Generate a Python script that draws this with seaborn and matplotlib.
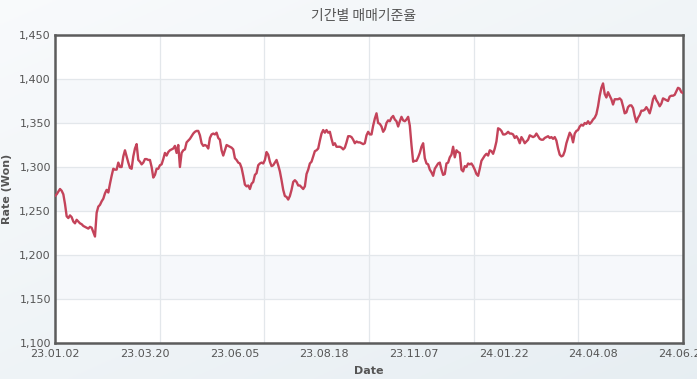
import numpy as np
import pandas as pd
import matplotlib
matplotlib.use("Agg")
import matplotlib.pyplot as plt
import seaborn as sns

# Daily exchange rate (Won), one value per trading day
rates = [
    # 2023-01 .. 2023-03
    1267, 1269, 1272, 1275, 1273, 1269, 1258, 1244, 1242, 1245, 1243, 1238, 1236, 1240, 1238, 1236,
    1235, 1233, 1232, 1231, 1230, 1232, 1231, 1226, 1221, 1248, 1255, 1257, 1261, 1264, 1270, 1274,
    1271, 1281, 1290, 1298, 1297, 1297, 1305, 1300, 1300, 1312, 1319, 1312, 1305, 1299, 1298, 1312,
    1321, 1326, 1308, 1306, 1303, 1305, 1309, 1309, 1308, 1308, 1300, 1288, 1291, 1298, 1298, 1302,
    1303, 1309, 1316, 1313, 1317, 1319, 1320, 1321, 1324, 1316, 1325, 1300, 1316,
    # 2023-04 .. 2023-07
    1319, 1320, 1328, 1330, 1332, 1335, 1338, 1340, 1341, 1341, 1336, 1327, 1324, 1325, 1324, 1321,
    1333, 1337, 1338, 1337, 1339, 1333, 1331, 1319, 1313, 1319, 1325, 1324, 1323, 1322, 1320, 1310,
    1308, 1305, 1304, 1299, 1290, 1280, 1278, 1279, 1275, 1281, 1283, 1291, 1293, 1302, 1304, 1305,
    1304, 1308, 1317, 1314, 1306, 1301, 1302, 1305, 1308, 1302, 1295, 1285, 1274, 1267, 1266, 1263,
    1267, 1274, 1283, 1285, 1283, 1279, 1279, 1277, 1275, 1278, 1292,
    # 2023-08 .. 2023-11
    1297, 1304, 1306, 1312, 1318, 1319, 1321, 1330, 1338, 1342, 1339, 1342, 1339, 1340, 1332, 1325,
    1327, 1323, 1323, 1323, 1322, 1320, 1322, 1328, 1335, 1335, 1334, 1331, 1327, 1329, 1328, 1328,
    1327, 1326, 1327, 1336, 1340, 1337, 1337, 1347, 1355, 1361, 1350, 1349, 1346, 1340, 1343, 1350,
    1353, 1352, 1356, 1358, 1354, 1352, 1346, 1352, 1357, 1353, 1352, 1354, 1357, 1347, 1325, 1306,
    1307, 1307, 1311, 1316, 1323, 1327, 1310, 1304, 1303, 1297, 1294, 1290,
    # 2023-12 .. 2024-03
    1298, 1301, 1304, 1305, 1297, 1291, 1292, 1304, 1305, 1311, 1314, 1323, 1311, 1319, 1317, 1316,
    1297, 1295, 1301, 1300, 1304, 1303, 1304, 1301, 1297, 1292, 1290, 1298, 1307, 1310, 1313, 1315,
    1313, 1319, 1318, 1315, 1321, 1329, 1344, 1343, 1341, 1337, 1337, 1338, 1340, 1338, 1338, 1337,
    1333, 1335, 1332, 1327, 1334, 1331, 1327, 1329, 1331, 1336, 1335, 1334, 1335, 1338, 1335, 1332,
    1331, 1331, 1333, 1334, 1335, 1333, 1334, 1332, 1334, 1330,
    # 2024-03 .. 2024-06
    1321, 1314, 1312, 1313, 1318, 1327, 1333, 1339, 1336, 1328, 1338, 1341, 1342, 1346, 1348, 1347,
    1350, 1349, 1352, 1349, 1351, 1354, 1356, 1360, 1369, 1381, 1390, 1395, 1383, 1379, 1385, 1381,
    1377, 1371, 1377, 1377, 1377, 1378, 1376, 1369, 1361, 1362, 1368, 1370, 1370, 1367, 1358, 1351,
    1356, 1359, 1364, 1364, 1365, 1368, 1365, 1361, 1368, 1377, 1381, 1376, 1373, 1369, 1372, 1378,
    1377, 1376, 1375, 1380, 1381, 1381, 1382, 1386, 1390, 1389, 1385, 1384,
]

date_labels = ["23.01.02", "23.03.20", "23.06.05", "23.08.18",
               "23.11.07", "24.01.22", "24.04.08", "24.06.24"]
y_ticks = [1100, 1150, 1200, 1250, 1300, 1350, 1400, 1450]
shaded_bands = [1150, 1250, 1350]

sns.set_theme(style="white")
plt.rcParams["font.family"] = ["DejaVu Sans", "Noto Sans CJK KR"]

fig = plt.figure(figsize=(6.97, 3.79), dpi=100)

# gradient page background
bg = fig.add_axes([0, 0, 1, 1], zorder=-10)
yy, xx = np.mgrid[0:1:200j, 0:1:200j]
grad = 0.55 * yy + 0.45 * xx
top = np.array([0.975, 0.982, 0.988])
bot = np.array([0.905, 0.933, 0.950])
img = top[None, None, :] * (1 - grad[..., None]) + bot[None, None, :] * grad[..., None]
bg.imshow(img, aspect="auto", extent=[0, 1, 0, 1], origin="upper")
bg.axis("off")

ax = fig.add_axes([55 / 697, 1 - 343 / 379, 628 / 697, 308 / 379])
ax.set_facecolor("white")

df = pd.DataFrame({"day": np.arange(len(rates)), "rate": rates})
sns.lineplot(data=df, x="day", y="rate", ax=ax, color="#c4435a", linewidth=1.7, zorder=5)

n = len(rates) - 1
ax.set_xlim(0, n)
ax.set_ylim(y_ticks[0], y_ticks[-1])

for lo in shaded_bands:
    ax.axhspan(lo, lo + 50, color="#f6f8fb", zorder=0, lw=0)

ax.set_yticks(y_ticks)
ax.set_yticklabels([f"{v:,}" for v in y_ticks])
ax.set_xticks([n * k / 7 for k in range(len(date_labels))])
ax.set_xticklabels(date_labels)
ax.set_xticks([n * k / 6 for k in range(1, 6)], minor=True)

ax.grid(axis="y", which="major", color="#e3e7eb", linewidth=0.9, zorder=1)
ax.grid(axis="x", which="minor", color="#e3e7eb", linewidth=0.9, zorder=1)
ax.grid(axis="x", which="major", visible=False)
ax.set_axisbelow(True)

ax.tick_params(axis="both", which="both", length=0, labelsize=8, colors="#555555")
ax.tick_params(axis="y", pad=3)
ax.tick_params(axis="x", pad=4)

for s in ax.spines.values():
    s.set_color("#5c5c5c")
    s.set_linewidth(1.8)
    s.set_visible(True)

ax.set_xlabel("Date", fontsize=8, fontweight="bold", color="#555555")
ax.set_ylabel("Rate (Won)", fontsize=8, fontweight="bold", color="#555555")
ax.xaxis.set_label_coords(0.5, -0.075)
ax.yaxis.set_label_coords(-0.068, 0.5)

fig.text(0.521, 0.958, "기간별 매매기준율", ha="center", va="center",
         fontsize=10, color="#555555", family=["Noto Sans CJK KR", "DejaVu Sans"])

fig.savefig("out.png", dpi=100)
